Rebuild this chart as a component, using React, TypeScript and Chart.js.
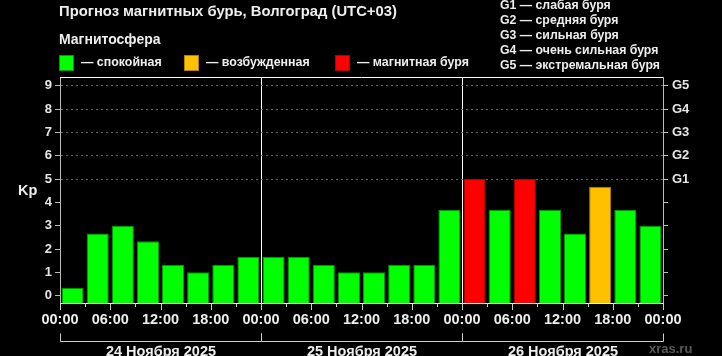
import React, { useEffect, useRef } from "react";
import { Chart, registerables } from "chart.js";

Chart.register(...registerables);

const FONT = "'Liberation Sans', Arial, Helvetica, sans-serif";

const titleText = "Прогноз магнитных бурь, Волгоград (UTC+03)";
const legendTitle = "Магнитосфера";
const legendLabels = ["— спокойная", "— возбужденная", "— магнитная буря"];
const legendColors = ["#00ff00", "#ffc000", "#ff0000"];
const legendBorders = ["#009a00", "#b08400", "#b00000"];
const gLegend = [
  "G1 — слабая буря",
  "G2 — средняя буря",
  "G3 — сильная буря",
  "G4 — очень сильная буря",
  "G5 — экстремальная буря",
];
const dayLabels = ["24 Ноября 2025", "25 Ноября 2025", "26 Ноября 2025"];

// start hour of each 3-hour slot (0 = 00:00 on 24 Nov)
const slotStartHours = [0, 3, 6, 9, 12, 15, 18, 21, 24, 27, 30, 33, 36, 39, 42, 45, 48, 51, 54, 57, 60, 63, 66, 69];
const kpValues = [
  0.33, 2.67, 3, 2.33, 1.33, 1, 1.33, 1.67,
  1.67, 1.67, 1.33, 1, 1, 1.33, 1.33, 3.67,
  5, 3.67, 5, 3.67, 2.67, 4.67, 3.67, 3,
];
const kpTicks = [0, 1, 2, 3, 4, 5, 6, 7, 8, 9];
const gTickLabels = ["", "", "", "", "", "G1", "G2", "G3", "G4", "G5"];
const hourTicks = [0, 6, 12, 18, 24, 30, 36, 42, 48, 54, 60, 66, 72];
const slotBoundaries = [0, 3, 6, 9, 12, 15, 18, 21, 24, 27, 30, 33, 36, 39, 42, 45, 48, 51, 54, 57, 60, 63, 66, 69, 72];
const dayStarts = [0, 24, 48];

const Y_MIN = -0.314;
const Y_MAX = 9.373;

function levelIndex(v: number) {
  if (v >= 5) return 2;
  if (v >= 4) return 1;
  return 0;
}

const decorPlugin = {
  id: "decor",
  afterDraw(chart: any) {
    const { ctx, chartArea: a, scales } = chart;
    const x = scales.x;
    ctx.save();
    // top frame line
    ctx.strokeStyle = "#ffffff";
    ctx.lineWidth = 1;
    ctx.beginPath();
    ctx.moveTo(a.left, Math.round(a.top) + 0.5);
    ctx.lineTo(a.right, Math.round(a.top) + 0.5);
    ctx.stroke();
    // x tick marks
    ctx.strokeStyle = "#cccccc";
    for (const h of slotBoundaries) {
      const px = Math.round(x.getPixelForValue(h)) + 0.5;
      const len = h % 6 === 0 ? 7 : 4;
      ctx.beginPath();
      ctx.moveTo(px, a.bottom);
      ctx.lineTo(px, a.bottom + len);
      ctx.stroke();
    }
    // day brackets and labels
    ctx.font = `bold 14.5px ${FONT}`;
    ctx.fillStyle = "#eeeeee";
    ctx.textAlign = "center";
    ctx.textBaseline = "alphabetic";
    dayStarts.forEach((d, i) => {
      const x0 = Math.round(x.getPixelForValue(d)) + 0.5;
      const x1 = Math.round(x.getPixelForValue(d + 24)) + 0.5;
      const yb = Math.round(a.bottom) + 38.5;
      ctx.strokeStyle = "#cccccc";
      ctx.beginPath();
      ctx.moveTo(x0, yb - 8);
      ctx.lineTo(x0, yb);
      ctx.lineTo(x1, yb);
      ctx.lineTo(x1, yb - 8);
      ctx.stroke();
      ctx.fillText(dayLabels[i], (x0 + x1) / 2, a.bottom + 52.5);
    });
    ctx.restore();
  },
};

export default function App() {
  const canvasRef = useRef<HTMLCanvasElement | null>(null);

  useEffect(() => {
    document.body.style.margin = "0";
    document.body.style.background = "#000";
    const canvas = canvasRef.current;
    if (!canvas) return;
    const chart = new Chart(canvas, {
      type: "bar",
      data: {
        datasets: [
          {
            data: kpValues.map((v, i) => ({ x: slotStartHours[i] + 1.5, y: v })),
            backgroundColor: kpValues.map((v) => legendColors[levelIndex(v)]),
            borderColor: kpValues.map((v) => legendBorders[levelIndex(v)]),
            borderWidth: 1,
            base: Y_MIN,
            barPercentage: 0.88,
            categoryPercentage: 1,
          } as any,
        ],
      },
      options: {
        animation: false,
        responsive: false,
        maintainAspectRatio: false,
        events: [],
        layout: { padding: { top: 77, left: 0, right: 0, bottom: 0 } },
        plugins: {
          legend: { display: false },
          tooltip: { enabled: false },
          title: { display: false },
        },
        scales: {
          x: {
            type: "linear",
            position: "bottom",
            min: 0,
            max: 72,
            offset: false,
            afterBuildTicks: (scale: any) => {
              scale.ticks = hourTicks.map((v) => ({ value: v }));
            },
            afterFit: (scale: any) => {
              scale.height = 53;
            },
            ticks: {
              autoSkip: false,
              maxRotation: 0,
              color: "#eeeeee",
              padding: 8,
              font: { family: FONT, size: 14.5, weight: "bold" },
              callback: (v: any) => `${String(Number(v) % 24).padStart(2, "0")}:00`,
            },
            grid: {
              offset: false,
              drawTicks: false,
              color: (ctx: any) =>
                ctx.tick && (ctx.tick.value === 24 || ctx.tick.value === 48) ? "#ffffff" : "transparent",
              lineWidth: 1,
            },
            border: { display: true, color: "#ffffff", width: 1 },
          },
          y: {
            type: "linear",
            position: "left",
            min: Y_MIN,
            max: Y_MAX,
            afterBuildTicks: (scale: any) => {
              scale.ticks = kpTicks.map((v) => ({ value: v }));
            },
            afterFit: (scale: any) => {
              scale.width = 60;
            },
            ticks: {
              color: "#e6e6e6",
              padding: 3,
              font: { family: FONT, size: 13, weight: "bold" },
              callback: (v: any) => String(v),
            },
            grid: {
              color: (ctx: any) => (ctx.tick && ctx.tick.value >= 5 ? "#6a6a6a" : "transparent"),
              tickColor: "#bbbbbb",
              tickLength: 5,
              lineWidth: 1,
            },
            border: { display: true, color: "#bbbbbb", width: 1, dash: [2, 3] },
          },
          y2: {
            type: "linear",
            position: "right",
            min: Y_MIN,
            max: Y_MAX,
            afterBuildTicks: (scale: any) => {
              scale.ticks = kpTicks.map((v) => ({ value: v }));
            },
            afterFit: (scale: any) => {
              scale.width = 59;
            },
            ticks: {
              color: "#e6e6e6",
              padding: 4,
              font: { family: FONT, size: 13, weight: "bold" },
              callback: (_v: any, i: number) => gTickLabels[i],
            },
            grid: {
              drawOnChartArea: false,
              tickColor: "#bbbbbb",
              tickLength: 5,
            },
            border: { display: true, color: "#bbbbbb", width: 1 },
          },
        },
      } as any,
      plugins: [decorPlugin],
    });
    return () => chart.destroy();
  }, []);

  const textBase: React.CSSProperties = {
    position: "absolute",
    fontFamily: FONT,
    fontWeight: "bold",
    color: "#eeeeee",
    whiteSpace: "nowrap",
  };

  return (
    <div
      style={{
        position: "fixed",
        left: 0,
        top: 0,
        width: 722,
        height: 356,
        background: "#000",
        overflow: "hidden",
      }}
    >
      <canvas ref={canvasRef} width={722} height={356} style={{ position: "absolute", left: 0, top: 0, width: 722, height: 356 }} />
      <div style={{ ...textBase, left: 59, top: 0.5, fontSize: 14.8, lineHeight: "20px" }}>{titleText}</div>
      <div style={{ ...textBase, left: 59, top: 29.3, fontSize: 14, lineHeight: "20px" }}>{legendTitle}</div>
      {legendLabels.map((lab, i) => (
        <React.Fragment key={lab}>
          <div
            style={{
              position: "absolute",
              left: [59, 184, 335][i],
              top: 55,
              width: 13,
              height: 14,
              background: legendColors[i],
              border: `1px solid ${legendBorders[i]}`,
            }}
          />
          <div style={{ ...textBase, left: [81, 206, 357][i], top: 52, fontSize: 12.4, lineHeight: "20px" }}>{lab}</div>
        </React.Fragment>
      ))}
      <div style={{ ...textBase, left: 500, top: -2, fontSize: 12.3, lineHeight: "15px" }}>
        {gLegend.map((g) => (
          <div key={g}>{g}</div>
        ))}
      </div>
      <div style={{ ...textBase, left: 18, top: 180, fontSize: 14.5, lineHeight: "20px" }}>Kp</div>
      <div style={{ ...textBase, left: 649, top: 341.2, fontSize: 13, lineHeight: "16px", color: "#5a5a5a" }}>xras.ru</div>
    </div>
  );
}
